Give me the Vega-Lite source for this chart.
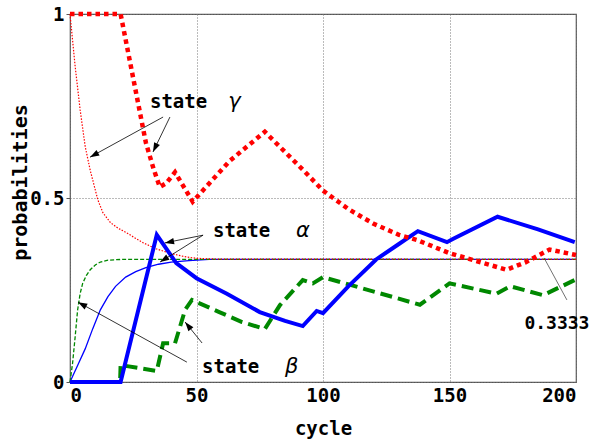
{
  "$schema": "https://vega.github.io/schema/vega-lite/v6.json",
  "width": 506,
  "height": 368,
  "autosize": "none",
  "padding": {"left": 70, "top": 14, "right": 16, "bottom": 64},
  "background": "white",
  "config": {
    "view": {"stroke": "#555", "strokeWidth": 1.2},
    "axis": {
      "labelFont": "DejaVu Sans Mono",
      "labelFontWeight": "bold",
      "labelColor": "black",
      "titleFont": "DejaVu Sans Mono",
      "titleFontWeight": "bold",
      "titleColor": "black",
      "domain": false,
      "grid": true,
      "gridDash": [1, 2],
      "gridColor": "#777",
      "gridOpacity": 1
    }
  },
  "datasets": {
    "gammaThick": [
      {"x": 0, "y": 1}, {"x": 20, "y": 1}, {"x": 24, "y": 0.86}, {"x": 30, "y": 0.65}, {"x": 33, "y": 0.58},
      {"x": 35.5, "y": 0.53}, {"x": 38, "y": 0.54}, {"x": 41.5, "y": 0.57}, {"x": 48.5, "y": 0.49},
      {"x": 63, "y": 0.6}, {"x": 77, "y": 0.68}, {"x": 85, "y": 0.625}, {"x": 92, "y": 0.577},
      {"x": 100, "y": 0.52}, {"x": 110, "y": 0.47}, {"x": 120, "y": 0.43}, {"x": 130, "y": 0.4},
      {"x": 137.5, "y": 0.385}, {"x": 150, "y": 0.35}, {"x": 160, "y": 0.33}, {"x": 172.5, "y": 0.305},
      {"x": 180, "y": 0.325}, {"x": 189.5, "y": 0.36}, {"x": 200, "y": 0.345}
    ],
    "gammaThin": [
      {"x": 0, "y": 1}, {"x": 2, "y": 0.86}, {"x": 4, "y": 0.74}, {"x": 6, "y": 0.64}, {"x": 8, "y": 0.575},
      {"x": 11, "y": 0.495}, {"x": 13, "y": 0.46}, {"x": 16, "y": 0.433}, {"x": 19, "y": 0.418},
      {"x": 22.5, "y": 0.405}, {"x": 26, "y": 0.39}, {"x": 29, "y": 0.378}, {"x": 34, "y": 0.362},
      {"x": 39.5, "y": 0.35}, {"x": 45, "y": 0.341}, {"x": 50, "y": 0.336}, {"x": 58, "y": 0.334},
      {"x": 200, "y": 0.3333}
    ],
    "alphaThick": [
      {"x": 0, "y": 0}, {"x": 20, "y": 0}, {"x": 34.3, "y": 0.4}, {"x": 42, "y": 0.323}, {"x": 50, "y": 0.282},
      {"x": 62, "y": 0.24}, {"x": 75, "y": 0.19}, {"x": 85, "y": 0.166}, {"x": 92, "y": 0.152},
      {"x": 97.5, "y": 0.193}, {"x": 100, "y": 0.187}, {"x": 110, "y": 0.26}, {"x": 121, "y": 0.333},
      {"x": 130, "y": 0.375}, {"x": 137.5, "y": 0.41}, {"x": 149, "y": 0.38}, {"x": 151.5, "y": 0.389},
      {"x": 169, "y": 0.449}, {"x": 185, "y": 0.415}, {"x": 199.5, "y": 0.38}
    ],
    "alphaThin": [
      {"x": 0, "y": 0}, {"x": 3, "y": 0.045}, {"x": 6, "y": 0.09}, {"x": 9, "y": 0.145}, {"x": 12, "y": 0.196},
      {"x": 15, "y": 0.232}, {"x": 18, "y": 0.26}, {"x": 22, "y": 0.285}, {"x": 26, "y": 0.3},
      {"x": 30, "y": 0.311}, {"x": 35, "y": 0.32}, {"x": 40, "y": 0.326}, {"x": 47, "y": 0.33},
      {"x": 55, "y": 0.333}, {"x": 200, "y": 0.3333}
    ],
    "betaThick": [
      {"x": 0, "y": 0}, {"x": 19.8, "y": 0}, {"x": 20, "y": 0.046}, {"x": 34.3, "y": 0.03}, {"x": 36.8, "y": 0.105},
      {"x": 41.5, "y": 0.105}, {"x": 45.5, "y": 0.196}, {"x": 48.2, "y": 0.223}, {"x": 59, "y": 0.19},
      {"x": 68, "y": 0.163}, {"x": 77, "y": 0.144}, {"x": 83, "y": 0.209}, {"x": 92, "y": 0.277},
      {"x": 96, "y": 0.268}, {"x": 100, "y": 0.285}, {"x": 138.3, "y": 0.21}, {"x": 150, "y": 0.268},
      {"x": 168.7, "y": 0.24}, {"x": 174, "y": 0.26}, {"x": 187, "y": 0.236}, {"x": 199.5, "y": 0.277}
    ],
    "betaThin": [
      {"x": 0, "y": 0}, {"x": 1, "y": 0.05}, {"x": 2, "y": 0.12}, {"x": 3, "y": 0.195}, {"x": 4, "y": 0.24},
      {"x": 5, "y": 0.268}, {"x": 6.5, "y": 0.29}, {"x": 8, "y": 0.305}, {"x": 10, "y": 0.318},
      {"x": 12, "y": 0.326}, {"x": 15, "y": 0.331}, {"x": 20, "y": 0.333}, {"x": 200, "y": 0.3333}
    ],
    "arrows": [
      {"x1": 36.8, "y1": 0.72, "x2": 7.9, "y2": 0.611},
      {"x1": 39.5, "y1": 0.72, "x2": 32.8, "y2": 0.625},
      {"x1": 52.6, "y1": 0.399, "x2": 37.5, "y2": 0.378},
      {"x1": 52.6, "y1": 0.399, "x2": 35.6, "y2": 0.326},
      {"x1": 46.2, "y1": 0.054, "x2": 3.2, "y2": 0.217},
      {"x1": 52.2, "y1": 0.106, "x2": 45.5, "y2": 0.163}
    ],
    "leader": [
      {"x1": 196.4, "y1": 0.223, "x2": 187.4, "y2": 0.337}
    ],
    "labels": [
      {"x": 31.6, "y": 0.745, "text": "state"},
      {"x": 56.5, "y": 0.394, "text": "state"},
      {"x": 52.2, "y": 0.0245, "text": "state"}
    ],
    "valueLabel": [
      {"x": 179.6, "y": 0.144, "text": "0.3333"}
    ],
    "greek": [
      {"x": 62.5, "y": 0.745, "text": "γ"},
      {"x": 89.3, "y": 0.394, "text": "α"},
      {"x": 85, "y": 0.0245, "text": "β"}
    ]
  },
  "encoding": {
    "x": {"field": "x", "type": "quantitative"},
    "y": {"field": "y", "type": "quantitative"}
  },
  "layer": [
    {
      "data": {"name": "alphaThin"},
      "mark": {"type": "line", "color": "#0000ff", "strokeWidth": 1.3},
      "encoding": {
        "x": {"field": "x", "type": "quantitative", "scale": {"domain": [0, 200], "nice": false},
          "axis": {"values": [0, 50, 100, 150, 200], "title": "cycle", "labelFontSize": 19, "labelPadding": 4, "ticks": false, "titleFontSize": 19, "titlePadding": 14}},
        "y": {"field": "y", "type": "quantitative", "scale": {"domain": [0, 1], "nice": false},
          "axis": {"values": [0, 0.5, 1], "format": "~g", "title": "probabilities", "labelFontSize": 19, "labelPadding": 2, "ticks": true, "tickSize": 4, "tickColor": "#555",
            "titleFontSize": 20, "titleX": -50, "titleY": 168, "titleAlign": "center", "titleBaseline": "middle"}}
      }
    },
    {
      "data": {"name": "betaThin"},
      "mark": {"type": "line", "color": "#008800", "strokeWidth": 1.3, "strokeDash": [4, 2]}
    },
    {
      "data": {"name": "gammaThin"},
      "mark": {"type": "line", "color": "#ff0000", "strokeWidth": 1.2, "strokeDash": [1.5, 1.5]}
    },
    {
      "data": {"name": "betaThick"},
      "mark": {"type": "line", "color": "#008800", "strokeWidth": 4, "strokeDash": [12, 6]}
    },
    {
      "data": {"name": "alphaThick"},
      "mark": {"type": "line", "color": "#0000ff", "strokeWidth": 4}
    },
    {
      "data": {"name": "gammaThick"},
      "mark": {"type": "line", "color": "#ff0000", "strokeWidth": 4.5, "strokeDash": [4.5, 4]}
    },
    {
      "data": {"name": "arrows"},
      "mark": {"type": "rule", "color": "black", "strokeWidth": 0.8},
      "encoding": {
        "x": {"field": "x1", "type": "quantitative"},
        "y": {"field": "y1", "type": "quantitative"},
        "x2": {"field": "x2"},
        "y2": {"field": "y2"}
      }
    },
    {
      "data": {"name": "arrows"},
      "transform": [
        {"calculate": "atan2((datum.x2 - datum.x1) * 506 / 200, (datum.y2 - datum.y1) * 368) * 180 / PI", "as": "ang"}
      ],
      "mark": {"type": "point", "shape": "M0,0L-0.8,2.3L0.8,2.3Z", "filled": true, "color": "black", "opacity": 1, "size": 64},
      "encoding": {
        "x": {"field": "x2", "type": "quantitative"},
        "y": {"field": "y2", "type": "quantitative"},
        "angle": {"field": "ang", "type": "quantitative", "scale": null}
      }
    },
    {
      "data": {"name": "leader"},
      "mark": {"type": "rule", "color": "#333", "strokeWidth": 0.7},
      "encoding": {
        "x": {"field": "x1", "type": "quantitative"},
        "y": {"field": "y1", "type": "quantitative"},
        "x2": {"field": "x2"},
        "y2": {"field": "y2"}
      }
    },
    {
      "data": {"name": "labels"},
      "mark": {"type": "text", "align": "left", "baseline": "alphabetic", "font": "DejaVu Sans Mono", "fontWeight": "bold", "fontSize": 19, "color": "black"},
      "encoding": {"text": {"field": "text"}}
    },
    {
      "data": {"name": "valueLabel"},
      "mark": {"type": "text", "align": "left", "baseline": "alphabetic", "font": "DejaVu Sans Mono", "fontWeight": "bold", "fontSize": 18, "color": "black"},
      "encoding": {"text": {"field": "text"}}
    },
    {
      "data": {"name": "greek"},
      "mark": {"type": "text", "align": "left", "baseline": "alphabetic", "font": "DejaVu Sans", "fontStyle": "italic", "fontSize": 21, "color": "black"},
      "encoding": {"text": {"field": "text"}}
    }
  ]
}
